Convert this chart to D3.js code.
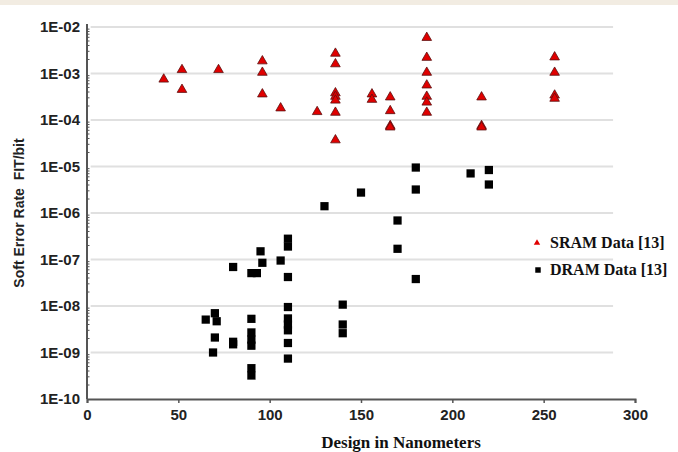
<!DOCTYPE html>
<html>
<head>
<meta charset="utf-8">
<script src="https://cdn.jsdelivr.net/npm/d3@7"></script>
<style>
  html, body { margin: 0; padding: 0; background: #fff; }
  svg { display: block; }
</style>
</head>
<body>
<svg></svg>
<script>
// SRAM points: design size (nm) and soft error rate (FIT/bit)
const sramX = [42, 52, 52, 72, 96, 96, 96, 106, 126,
  136, 136, 136, 136, 136, 136, 136,
  156, 156, 166, 166, 166, 166,
  186, 186, 186, 186, 186, 186, 186,
  216, 216, 216, 256, 256, 256, 256]
const sramY = [7.5e-4, 1.2e-3, 4.5e-4, 1.2e-3, 1.85e-3, 1.05e-3, 3.6e-4, 1.8e-4, 1.5e-4,
  2.7e-3, 1.6e-3, 3.8e-4, 3.2e-4, 2.65e-4, 1.45e-4, 3.7e-5,
  3.6e-4, 2.75e-4, 3.1e-4, 1.57e-4, 7.5e-5, 7e-5,
  5.9e-3, 2.2e-3, 1.05e-3, 5.6e-4, 3.2e-4, 2.4e-4, 1.45e-4,
  3.1e-4, 7.5e-5, 7e-5, 2.25e-3, 1.05e-3, 3.4e-4, 2.9e-4]

// DRAM points
const dramX = [65, 70, 71, 70, 69, 80, 80, 80,
  90, 93, 90, 90, 90, 90, 90, 90, 95, 96, 106,
  110, 110, 110, 110, 110, 110, 110, 110, 110,
  130, 140, 140, 140, 150, 170, 170, 180, 180, 180, 210, 220, 220]
const dramY = [5.1e-9, 7e-9, 4.7e-9, 2.1e-9, 1e-9, 6.9e-8, 1.7e-9, 1.5e-9,
  5.1e-8, 5.1e-8, 5.3e-9, 2.7e-9, 1.9e-9, 1.4e-9, 4.6e-10, 3.2e-10, 1.5e-7, 8.5e-8, 9.5e-8,
  2.8e-7, 1.9e-7, 4.2e-8, 9.5e-9, 5.4e-9, 4e-9, 3e-9, 1.6e-9, 7.4e-10,
  1.4e-6, 1.07e-8, 4e-9, 2.6e-9, 2.75e-6, 6.9e-7, 1.7e-7, 9.5e-6, 3.2e-6, 3.8e-8, 7.1e-6, 8.4e-6, 4.1e-6]

const xTicks = [0, 50, 100, 150, 200, 250, 300]
const yTicks = [1e-2, 1e-3, 1e-4, 1e-5, 1e-6, 1e-7, 1e-8, 1e-9, 1e-10]
const legendLabels = ['SRAM Data [13]', 'DRAM Data [13]']

const width = 678
const height = 452
const svg = d3.select('svg').attr('width', width).attr('height', height)

// faint band at the very top of the picture
svg.append('rect').attr('x', 0).attr('y', 0).attr('width', width).attr('height', 5)
  .attr('fill', '#f2ece2')

const x = d3.scaleLinear().domain([0, 300]).range([87, 635])
const y = d3.scaleLog().domain([1e-10, 1e-2]).range([399, 27])

// horizontal gridlines
svg.append('g')
  .selectAll('line')
  .data(yTicks.slice(0, -1))
  .enter()
  .append('line')
  .attr('x1', x(2))
  .attr('x2', x(288))
  .attr('y1', d => y(d))
  .attr('y2', d => y(d))
  .attr('stroke', '#e0e0e0')
  .attr('stroke-width', 2)

// y axis with labels
const gy = svg.append('g')
  .attr('transform', `translate(${x(0)},0)`)
  .call(d3.axisLeft(y).tickValues(yTicks).tickSize(0).tickPadding(7)
    .tickFormat(d => '1E-' + String(-Math.round(Math.log10(d))).padStart(2, '0')))
gy.select('.domain').attr('stroke', '#555').attr('stroke-width', 2)
  .attr('d', `M0,24V${y(1e-10)}`)
gy.selectAll('text')
  .style('font-family', '"Liberation Sans", Arial, sans-serif')
  .style('font-weight', 'bold')
  .style('font-size', '15px')
  .attr('fill', '#222')

// small minor ticks on the inside of the y axis
svg.append('g')
  .selectAll('line')
  .data(y.ticks().filter(d => Math.abs(Math.log10(d) - Math.round(Math.log10(d))) > 0.01))
  .enter()
  .append('line')
  .attr('x1', x(0))
  .attr('x2', x(0) + 2.5)
  .attr('y1', d => y(d))
  .attr('y2', d => y(d))
  .attr('stroke', '#555')
  .attr('stroke-width', 1)

// x axis
const gx = svg.append('g')
  .attr('transform', `translate(0,${y(1e-10)})`)
  .call(d3.axisBottom(x).tickValues(xTicks).tickSize(4).tickPadding(6))
gx.select('.domain').attr('stroke', '#555').attr('stroke-width', 2)
gx.selectAll('.tick line').attr('stroke', '#555').attr('stroke-width', 1.5)
gx.selectAll('text')
  .style('font-family', '"Liberation Sans", Arial, sans-serif')
  .style('font-weight', 'bold')
  .style('font-size', '15px')
  .attr('fill', '#222')

// axis titles
svg.append('text')
  .attr('x', 401)
  .attr('y', 448)
  .attr('text-anchor', 'middle')
  .style('font-family', '"Liberation Serif", "Times New Roman", serif')
  .style('font-weight', 'bold')
  .style('font-size', '17px')
  .attr('fill', '#111')
  .text('Design in Nanometers')

svg.append('text')
  .attr('transform', 'translate(24,213) rotate(-90)')
  .attr('text-anchor', 'middle')
  .style('font-family', '"Liberation Sans", Arial, sans-serif')
  .style('font-weight', 'bold')
  .style('font-size', '14px')
  .style('white-space', 'pre')
  .attr('fill', '#222')
  .text('Soft Error Rate  FIT/bit')

const tri = d3.symbol().type(d3.symbolTriangle).size(40)
const sq = d3.symbol().type(d3.symbolSquare).size(68)

// DRAM squares
svg.append('g')
  .selectAll('path')
  .data(dramX.map((v, i) => [v, dramY[i]]))
  .enter()
  .append('path')
  .attr('d', sq)
  .attr('transform', d => `translate(${x(d[0])},${y(d[1])})`)
  .attr('fill', '#000')

// SRAM triangles
svg.append('g')
  .selectAll('path')
  .data(sramX.map((v, i) => [v, sramY[i]]))
  .enter()
  .append('path')
  .attr('d', tri)
  .attr('transform', d => `translate(${x(d[0])},${y(d[1])})`)
  .attr('fill', '#e00000')
  .attr('stroke', '#5a1010')
  .attr('stroke-width', 0.8)

// legend
const legend = svg.append('g')
legend.append('path')
  .attr('d', d3.symbol().type(d3.symbolTriangle).size(18))
  .attr('transform', 'translate(537,243)')
  .attr('fill', '#e00000')
legend.append('path')
  .attr('d', d3.symbol().type(d3.symbolSquare).size(30))
  .attr('transform', 'translate(538,270)')
  .attr('fill', '#000')
legend.selectAll('text')
  .data(legendLabels)
  .enter()
  .append('text')
  .attr('x', 550)
  .attr('y', (d, i) => 248 + i * 27)
  .style('font-family', '"Liberation Serif", "Times New Roman", serif')
  .style('font-weight', 'bold')
  .style('font-size', '16px')
  .attr('fill', '#111')
  .text(d => d)
</script>
</body>
</html>
